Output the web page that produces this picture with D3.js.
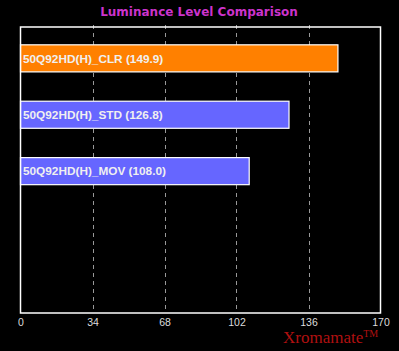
<!DOCTYPE html>
<html><head><meta charset="utf-8">
<script src="https://cdn.jsdelivr.net/npm/d3@7"></script>
<style>html,body{margin:0;padding:0;background:#000;}svg{display:block;}</style>
</head><body>
<script>
const categories = ["50Q92HD(H)_CLR", "50Q92HD(H)_STD", "50Q92HD(H)_MOV"];
const values = [149.9, 126.8, 108.0];
const barColors = ["#ff8000", "#6666ff", "#6666ff"];
const tickValues = [0, 34, 68, 102, 136, 170];
const title = "Luminance Level Comparison";

const W = 399, H = 351;
const plot = {left: 20.5, right: 380.5, top: 27, bottom: 313};

const svg = d3.select("body").append("svg").attr("width", W).attr("height", H)
  .style("background", "#000");

const x = d3.scaleLinear().domain([0, 170]).range([plot.left, plot.right]);
const y = d3.scaleBand().domain(categories).range([15.5, 214]).paddingInner(0.52).paddingOuter(0.52);

// title
svg.append("text").attr("x", 199).attr("y", 16).attr("text-anchor", "middle")
  .attr("font-family", "DejaVu Sans").attr("font-weight", "bold").attr("font-size", 12)
  .attr("fill", "#cc33cc").text(title);

// gridlines
svg.append("g").selectAll("line").data(tickValues.slice(1, -1)).join("line")
  .attr("x1", d => Math.round(x(d)) + 0.5).attr("x2", d => Math.round(x(d)) + 0.5)
  .attr("y1", 25).attr("y2", plot.bottom)
  .attr("stroke", "#999").attr("stroke-width", 1).attr("stroke-dasharray", "4,4");

// bars
svg.append("g").selectAll("rect").data(values).join("rect")
  .attr("x", x(0)).attr("y", (d, i) => y(categories[i]))
  .attr("width", d => x(d) - x(0)).attr("height", y.bandwidth())
  .attr("fill", (d, i) => barColors[i]).attr("stroke", "#fff").attr("stroke-width", 1.2);

// bar labels
svg.append("g").selectAll("text").data(values).join("text")
  .attr("x", x(0) + 2.5).attr("y", (d, i) => y(categories[i]) + y.bandwidth() / 2 + 4.2)
  .attr("font-family", "Liberation Sans").attr("font-weight", "bold").attr("font-size", 11.8)
  .attr("fill", "#f0f0f0").text((d, i) => `${categories[i]} (${d.toFixed(1)})`);

// frame
svg.append("rect").attr("x", plot.left).attr("y", plot.top)
  .attr("width", plot.right - plot.left).attr("height", plot.bottom - plot.top)
  .attr("fill", "none").attr("stroke", "#fff").attr("stroke-width", 1.5);

// axis
const axis = d3.axisBottom(x).tickValues(tickValues).tickSize(0).tickPadding(0);
const ax = svg.append("g").attr("transform", `translate(0,${plot.bottom + 6})`).call(axis);
ax.select(".domain").remove();
ax.selectAll("text").attr("font-family", "Liberation Sans").attr("font-size", 10.5)
  .attr("fill", "#dddddd").attr("dy", "0.71em");

// watermark
const wm = svg.append("text").attr("x", 283).attr("y", 343)
  .attr("font-family", "Liberation Serif").attr("font-size", 17).attr("fill", "#b01010");
wm.append("tspan").text("Xromamate");
wm.append("tspan").attr("font-size", 10).attr("dy", -6).text("TM");
</script>
</body></html>
